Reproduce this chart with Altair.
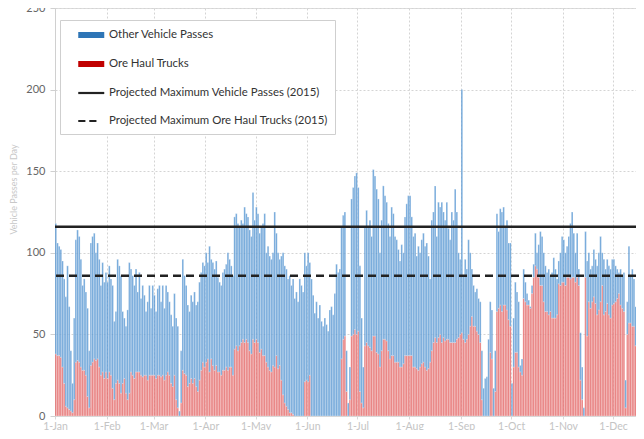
import altair as alt
import pandas as pd

# ---- daily values (total passes, ore haul trucks) ----
jan_total = [118,106,104,102,95,84,73,92,67,40,20,60,108,114,110,96,80,84,76,66,40,106,110,112,100,106,96,80,94,82,88]
jan_ore   = [38,37,37,36,30,20,6,5,4,3,2,10,33,34,33,30,28,28,25,12,5,31,33,35,34,35,30,25,27,23,27]
feb_total = [82,92,84,80,58,64,96,92,86,64,60,55,65,94,90,86,80,90,76,88,72,80,74,64,70,80,66,80]
feb_ore   = [23,27,25,17,10,20,22,20,14,20,23,14,10,14,27,25,23,27,27,27,25,24,25,25,22,25,25,25]
mar_total = [74,64,78,80,70,80,66,80,76,70,62,55,75,60,55,3,40,96,86,80,68,64,74,70,76,68,70,82,88,94,92]
mar_ore   = [25,23,25,25,24,25,22,25,27,25,20,18,25,10,5,0,8,28,26,25,18,20,23,20,23,18,15,22,28,33,30]
apr_total = [100,94,104,96,94,90,95,85,82,80,88,90,93,100,96,92,86,122,124,118,116,120,118,128,124,122,114,110,137,120]
apr_ore   = [33,35,27,35,31,28,31,27,27,25,28,28,30,28,30,30,25,41,43,40,43,45,47,45,47,45,40,38,47,45]
may_total = [128,124,112,116,118,124,100,104,98,96,100,125,112,100,96,98,100,92,90,84,86,80,84,72,76,70,84,80,76,100,92]
may_ore   = [47,45,39,41,37,37,33,30,28,27,31,30,37,29,31,22,13,8,6,4,2,2,1,0,0,0,0,0,0,21,22]
jun_total = [100,94,84,74,63,70,60,68,58,55,60,56,52,65,67,62,75,93,88,90,116,123,125,40,8,30,133,140,147,149]
jun_ore   = [21,25,0,0,0,0,0,0,0,0,0,0,0,0,0,0,0,0,0,0,35,47,49,15,0,10,49,50,53,50]
jul_total = [140,92,60,30,116,126,116,120,110,151,147,139,133,100,120,141,135,131,118,110,128,124,110,108,102,95,105,100,122,130,135]
jul_ore   = [52,15,8,5,43,45,43,42,40,49,49,39,38,30,40,47,47,46,40,35,37,37,33,33,33,30,30,32,37,37,37]
aug_total = [135,122,110,112,98,104,100,108,112,104,106,98,84,120,125,141,110,131,128,131,125,120,131,115,108,125,120,139,125,100,96]
aug_ore   = [37,37,30,30,29,28,30,32,33,30,28,29,33,40,45,48,45,48,50,45,48,46,47,47,45,45,45,45,47,48,50]
sep_total = [200,86,96,90,108,100,90,80,76,78,72,70,40,17,23,24,47,70,65,17,40,124,113,127,125,128,116,120,106,106]
sep_ore   = [51,47,45,47,50,55,61,55,55,52,50,45,10,0,0,0,0,39,35,0,15,64,66,68,64,68,68,65,59,55]
oct_total = [20,60,82,76,70,31,35,90,82,75,71,67,80,93,112,100,105,113,110,100,92,88,90,86,88,97,90,84,95,100,110]
oct_ore   = [0,30,39,39,30,27,25,72,70,68,68,66,75,85,92,90,85,80,80,70,64,64,62,64,60,60,60,62,81,80,82]
nov_total = [108,100,104,110,118,125,112,100,112,90,51,30,5,113,95,100,90,92,102,96,92,100,110,100,96,90,96,92,90,96]
nov_ore   = [82,80,85,85,84,85,85,82,85,80,22,10,0,85,49,70,66,70,73,69,62,65,70,80,62,64,69,62,60,68]
dec_total = [96,92,90,88,90,86,88,22,70,104,86,90,84,67,64,70,66,53,60]
dec_ore   = [69,70,72,75,68,66,64,5,50,57,57,55,55,43,45,43,43,43,45]

max_vehicle_passes = 116
max_ore_trucks = 86

series_names = ["Other Vehicle Passes", "Ore Haul Trucks",
                "Projected Maximum Vehicle Passes (2015)",
                "Projected Maximum Ore Haul Trucks (2015)"]
legend_colors = ["#2E75B6", "#C00000", "#222222", "#222222"]

# ---- build table ----
total = (jan_total + feb_total + mar_total + apr_total + may_total + jun_total +
         jul_total + aug_total + sep_total + oct_total + nov_total + dec_total)
ore = (jan_ore + feb_ore + mar_ore + apr_ore + may_ore + jun_ore +
       jul_ore + aug_ore + sep_ore + oct_ore + nov_ore + dec_ore)
dates = pd.date_range("2014-01-01", periods=len(total), freq="D")
df = pd.DataFrame({
    "date": dates,
    "date_end": dates + pd.Timedelta(days=1),
    "total": total,
    "ore": ore,
})

FONT = "Lato"
x_scale = alt.Scale(domain=[alt.DateTime(year=2014, month=1, date=1),
                            alt.DateTime(year=2014, month=12, date=14, hours=17)])
y_scale = alt.Scale(domain=[0, 250], nice=False)

x_axis = alt.Axis(format="%-d-%b", tickCount={"interval": "month", "step": 1},
                  labelColor="#c4c4c4", labelFontSize=10.5, labelFont=FONT,
                  tickColor="#d8d8d8", tickSize=3, labelPadding=2,
                  domainColor="#d8d8d8", grid=True, gridDash=[2, 2],
                  gridColor="#d4d4d4", title=None, labelFlush=False)
y_axis = alt.Axis(values=[0, 50, 100, 150, 200, 250], labelColor="#666666",
                  labelFontSize=11, labelFont=FONT, tickColor="#d0d0d0", tickSize=5,
                  labelPadding=5, domainColor="#d0d0d0", grid=True, gridDash=[2, 2],
                  gridColor="#d4d4d4", title="Vehicle Passes per Day",
                  titleColor="#c8c8c8", titleFontSize=9, titleFont=FONT,
                  titleFontWeight="normal", titleX=-42, titleY=181,
                  titleAngle=-90, titleAlign="center", titleBaseline="middle")

base = alt.Chart(df)

red = base.mark_bar(color="#E35D5D", opacity=0.82, stroke="white", strokeWidth=0.3, clip=True).encode(
    x=alt.X("date:T", scale=x_scale, axis=x_axis),
    x2="date_end:T",
    y=alt.Y("ore:Q", scale=y_scale, axis=y_axis),
    y2=alt.datum(0),
)
blue = base.mark_bar(color="#4A8FD0", opacity=0.8, stroke="white", strokeWidth=0.3, clip=True).encode(
    x=alt.X("date:T", scale=x_scale, axis=x_axis),
    x2="date_end:T",
    y=alt.Y("ore:Q", scale=y_scale, axis=y_axis),
    y2="total:Q",
)

rule_solid = alt.Chart(pd.DataFrame({"v": [max_vehicle_passes]})).mark_rule(
    color="#222222", strokeWidth=2.5).encode(y=alt.Y("v:Q", scale=y_scale, axis=y_axis))
rule_dash = alt.Chart(pd.DataFrame({"v": [max_ore_trucks]})).mark_rule(
    color="#222222", strokeWidth=2.5, strokeDash=[8, 5]).encode(y=alt.Y("v:Q", scale=y_scale, axis=y_axis))

# legend symbols (custom paths, unit = 6.5px)
rect_path = "M0.5,-0.3H4.5M0.5,0H4.5M0.5,0.3H4.5"
line_path = "M0.5,0H4.5"
dash_path = "M0.5,0H1.6M2.2,0H3.3"
legend_shapes = [rect_path, rect_path, line_path, dash_path]

leg = alt.Legend(title=None, orient="none", legendX=5, legendY=12, padding=7,
                 rowPadding=14, symbolSize=169, labelOffset=26, labelFontSize=11.4,
                 labelFont=FONT, labelColor="#333333", labelLimit=400,
                 fillColor="white", strokeColor="#cfcfcf", symbolOpacity=1,
                 symbolStrokeWidth=2.2)

legend_df = pd.DataFrame({"series": series_names,
                          "date": [dates[0]] * 4, "v": [0] * 4})
legend_layer = alt.Chart(legend_df).mark_point(opacity=0, filled=False).encode(
    x=alt.X("date:T", scale=x_scale, axis=x_axis),
    y=alt.Y("v:Q", scale=y_scale, axis=y_axis),
    stroke=alt.Stroke("series:N", scale=alt.Scale(domain=series_names, range=legend_colors), legend=leg),
    shape=alt.Shape("series:N", scale=alt.Scale(domain=series_names, range=legend_shapes), legend=leg),
)

chart = alt.layer(red, blue, rule_solid, rule_dash, legend_layer).properties(
    width=581, height=408,
    autosize=alt.AutoSizeParams(type="none"),
    padding={"left": 47, "top": 0, "right": 0, "bottom": 14},
).configure_view(stroke=None).configure(background="white")

chart.save("out.html", embed_options={"renderer": "svg", "actions": False})
